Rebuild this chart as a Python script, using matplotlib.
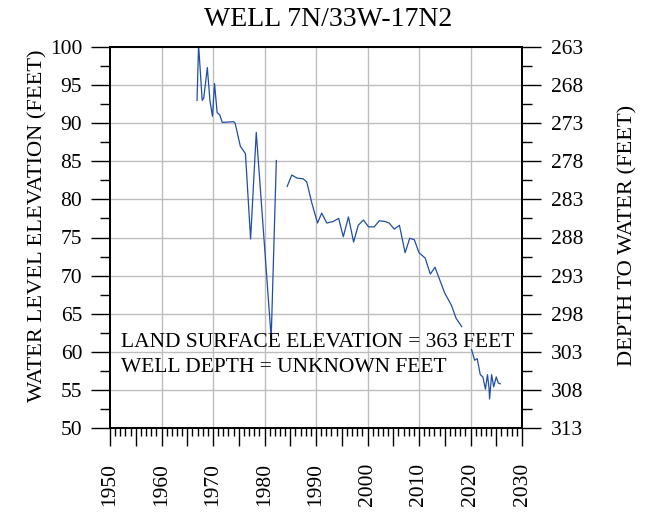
import numpy as np
import matplotlib
matplotlib.use("Agg")
from matplotlib import pyplot as plt
from matplotlib.ticker import MultipleLocator, FixedLocator

plt.rcParams['font.family'] = ['Liberation Serif', 'DejaVu Serif']

# water level record (NaN = gap in record)
years = [1966.9, 1967.2, 1967.9, 1968.2, 1968.9, 1969.4, 1969.9, 1970.3, 1970.8, 1971.3,
         1971.8, 1974.0, 1974.3, 1975.3, 1976.3, 1977.3, 1978.4, 1981.3, 1982.3, 1983.3,
         1984.4, 1985.3, 1986.3, 1987.5, 1988.2, 1989.2, 1990.3, 1991.1, 1992.1, 1993.3,
         1994.4, 1995.3, 1996.3, 1997.3, 1998.2, 1999.2, 2000.2, 2001.3, 2002.3, 2003.4,
         2004.2, 2005.2, 2006.2, 2007.3, 2008.2, 2009.1, 2010.0, 2011.2, 2012.2, 2013.1,
         2015.0, 2016.3, 2017.2, 2018.3, 2019.2, 2020.2, 2020.8, 2021.3, 2021.9, 2022.4,
         2022.9, 2023.3, 2023.6, 2023.7, 2024.1, 2024.5, 2025.0, 2025.4, 2025.8]
elev = [93.0, 100.3, 93.0, 93.3, 97.3, 93.0, 90.9, 95.2, 91.4, 91.1,
        90.1, 90.2, 90.0, 87.0, 86.0, 74.8, 88.8, 61.8, 85.1, np.nan,
        81.7, 83.2, 82.8, 82.7, 82.3, 79.5, 76.9, 78.2, 76.9, 77.1,
        77.5, 75.1, 77.7, 74.4, 76.6, 77.3, 76.4, 76.4, 77.2, 77.1,
        76.9, 76.1, 76.6, 73.0, 74.9, 74.7, 73.0, 72.3, 70.2, 71.1,
        67.7, 66.1, 64.4, 63.3, np.nan, 60.3, 58.9, 59.1, 57.0, 56.7,
        55.1, 57.0, 55.2, 53.8, 57.0, 55.4, 56.7, 55.9, 55.8]

land_surface = 363
title = "WELL 7N/33W-17N2"
notes = ["LAND SURFACE ELEVATION = 363 FEET", "WELL DEPTH = UNKNOWN FEET"]

fs = 15.5

fig = plt.figure(figsize=(6.56, 5.15), dpi=100)
ax = fig.add_axes([110/656, 1-428/515, 412/656, 381/515])

ax.plot(years, elev, color='#1f4ea6', lw=0.9)

ax.set_xlim(1950, 2030)
ax.set_ylim(50, 100)
ax.xaxis.set_minor_locator(MultipleLocator(1))
ax.yaxis.set_major_locator(MultipleLocator(5))
ax.yaxis.set_minor_locator(MultipleLocator(2.5))
ax.yaxis.grid(True, which='major', color='#bdbdbd', lw=1)

# 5-year ticks as long as the decade ones
ax.set_xticks(np.arange(1950, 2031, 5))
ax.set_xticklabels([str(y) if y % 10 == 0 else '' for y in range(1950, 2031, 5)],
                   rotation=90, fontsize=fs)
for y in range(1960, 2030, 10):
    ax.axvline(y, color='#bdbdbd', lw=1, zorder=0)

ax.tick_params(axis='x', which='major', length=13, width=1, direction='out', pad=12)
ax.tick_params(axis='x', which='minor', length=6, width=1, direction='out')
ax.tick_params(axis='y', which='major', length=14, width=1, direction='out', pad=6, labelsize=fs)
ax.tick_params(axis='y', which='minor', length=7, width=1, direction='out')
for s in ax.spines.values():
    s.set_linewidth(1.3)

ax2 = ax.twinx()
ax2.set_ylim(land_surface - 50, land_surface - 100)
depth_ticks = [land_surface - v for v in range(100, 49, -5)]
ax2.yaxis.set_major_locator(FixedLocator(depth_ticks))
ax2.yaxis.set_minor_locator(FixedLocator([d + 2.5 for d in depth_ticks[:-1]]))
ax2.tick_params(axis='y', which='major', length=14, width=1, direction='out', pad=7, labelsize=fs)
ax2.tick_params(axis='y', which='minor', length=7, width=1, direction='out')
for s in ax2.spines.values():
    s.set_linewidth(1.3)

fig.text(38/656, 1-226/515, "WATER LEVEL ELEVATION (FEET)", fontsize=16.2,
         rotation=90, ha='center', va='center')
fig.text(628/656, 1-235/515, "DEPTH TO WATER (FEET)", fontsize=16.2,
         rotation=90, ha='center', va='center')

ax.text(1952.2, 61.2, notes[0], fontsize=fs, va='center', ha='left')
ax.text(1952.2, 58.0, notes[1], fontsize=fs, va='center', ha='left')

fig.text(0.5, 1-19/515, title, fontsize=20, ha='center', va='center')

fig.savefig("out.png", dpi=100)
